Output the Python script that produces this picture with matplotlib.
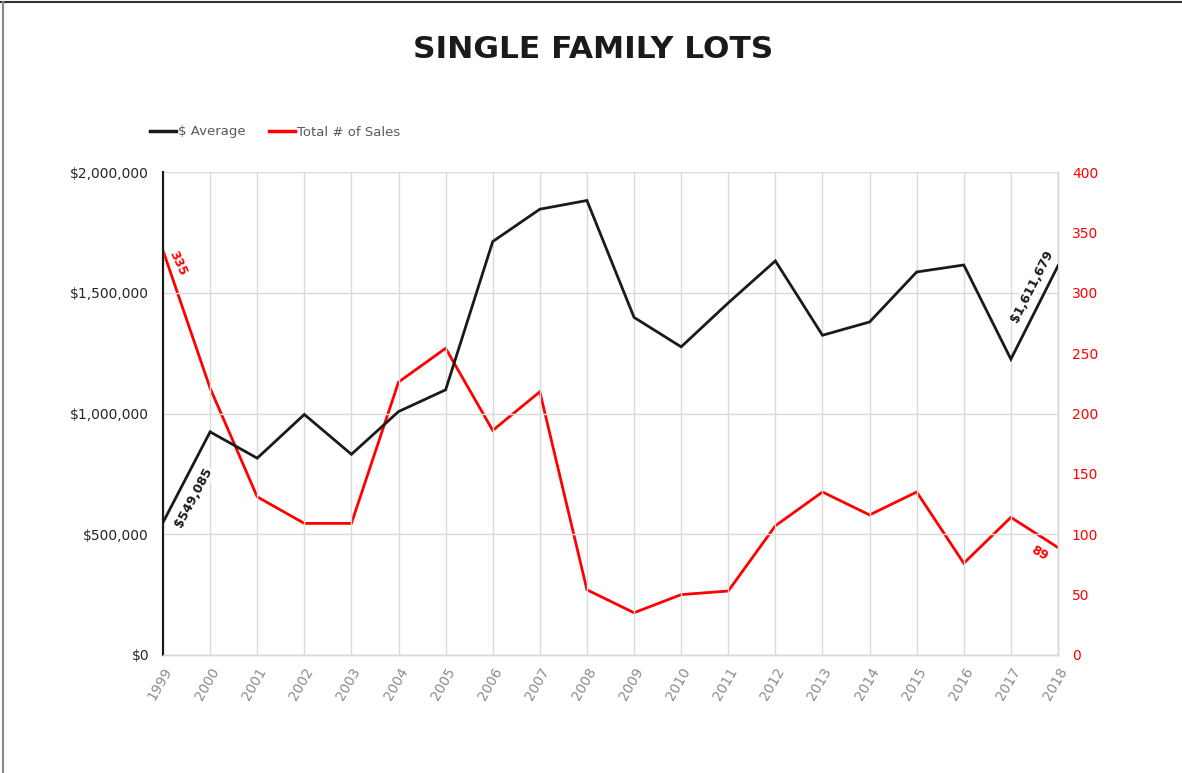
import matplotlib
matplotlib.use("Agg")
import matplotlib.pyplot as plt
from matplotlib.ticker import FuncFormatter, MultipleLocator
from matplotlib.lines import Line2D

years = ["1999", "2000", "2001", "2002", "2003", "2004", "2005", "2006", "2007", "2008",
         "2009", "2010", "2011", "2012", "2013", "2014", "2015", "2016", "2017", "2018"]
avg_price = [549085, 924000, 815000, 996000, 831000, 1008000, 1098000, 1712000, 1846000, 1882000,
             1398000, 1276000, 1458000, 1632000, 1324000, 1379000, 1586000, 1615000, 1225000, 1611679]
total_sales = [335, 221, 131, 109, 109, 226, 254, 186, 218, 54,
               35, 50, 53, 107, 135, 116, 135, 76, 114, 89]

title = "SINGLE FAMILY LOTS"
legend_labels = ["$ Average", "Total # of Sales"]

BLACK = "#1a1a1a"
RED = "#ff0000"
GRID = "#d9d9d9"
FONT = "DejaVu Sans"

plt.rcParams["font.family"] = [FONT]

fig = plt.figure(figsize=(11.82, 7.73), dpi=100)
ax = fig.add_axes([163 / 1182, 1 - 655 / 773, (1058 - 163) / 1182, (655 - 172) / 773])
ax2 = ax.twinx()

x = list(range(len(years)))
ax.plot(x, avg_price, color=BLACK, lw=2.0, zorder=3, solid_joinstyle="miter")
ax2.plot(x, total_sales, color=RED, lw=2.0, zorder=3, solid_joinstyle="miter")

ax.set_xlim(0, len(years) - 1)
ax.set_ylim(0, 2000000)
ax2.set_ylim(0, 400)
ax.yaxis.set_major_locator(MultipleLocator(500000))
ax2.yaxis.set_major_locator(MultipleLocator(50))
ax.yaxis.set_major_formatter(FuncFormatter(lambda v, p: "${:,.0f}".format(v)))

ax.set_xticks(x)
ax.set_xticklabels(years, rotation=60, ha="right", va="top", rotation_mode="anchor",
                   color="#8c8c8c", fontsize=10)
ax.tick_params(axis="x", length=0, pad=7)
ax.tick_params(axis="y", length=0, pad=10, labelsize=10, labelcolor="#262626")
ax2.tick_params(axis="y", length=0, pad=10, labelsize=10, labelcolor=RED)

ax.grid(True, color=GRID, lw=1.0, zorder=0)
ax.set_axisbelow(True)
for a in (ax, ax2):
    a.spines["top"].set_visible(False)
    a.spines["bottom"].set_color(GRID)
    a.spines["right"].set_color(GRID)
    a.spines["left"].set_color(BLACK)
    a.spines["left"].set_linewidth(1.5)
    a.spines["right"].set_linewidth(1.0)
    a.spines["bottom"].set_linewidth(1.0)
ax.set_zorder(ax2.get_zorder() + 1)
ax.patch.set_visible(False)

# data labels
bb = dict(boxstyle="square,pad=0.1", fc="white", ec="none")
ax.annotate("${:,.0f}".format(avg_price[0]), xy=(x[0], avg_price[0]), xytext=(22, 18),
            textcoords="offset points", ha="center", va="center", rotation=62,
            fontsize=9, fontweight="bold", color=BLACK, bbox=bb, zorder=5)
ax2.annotate("{}".format(total_sales[0]), xy=(x[0], total_sales[0]), xytext=(11, -9),
             textcoords="offset points", ha="center", va="center", rotation=-65,
             fontsize=9, fontweight="bold", color=RED, zorder=5)
ax.annotate("${:,.0f}".format(avg_price[-1]), xy=(x[-1], avg_price[-1]), xytext=(-19, -15),
            textcoords="offset points", ha="center", va="center", rotation=63,
            fontsize=9, fontweight="bold", color=BLACK, bbox=bb, zorder=5)
ax2.annotate("{}".format(total_sales[-1]), xy=(x[-1], total_sales[-1]), xytext=(-13, -4),
             textcoords="offset points", ha="center", va="center", rotation=-30,
             fontsize=9, fontweight="bold", color=RED, zorder=5)

fig.text(0.502, 1 - 50 / 773, title, ha="center", va="center", fontsize=22.5,
         fontweight="bold", color=BLACK)

handles = [Line2D([], [], color=BLACK, lw=2.5), Line2D([], [], color=RED, lw=2.5)]
fig.legend(handles, legend_labels, loc="center left", bbox_to_anchor=(150 / 1182, 1 - 132 / 773),
           ncol=2, frameon=False, handlelength=2.0, handletextpad=0.1, columnspacing=1.8,
           fontsize=9.5, labelcolor="#595959", borderaxespad=0, borderpad=0)

# outer frame (top and left edges)
fig.add_artist(Line2D([0, 1], [1 - 2 / 773, 1 - 2 / 773], transform=fig.transFigure,
                      color="#333333", lw=1.5))
fig.add_artist(Line2D([2.5 / 1182, 2.5 / 1182], [0, 1 - 2 / 773], transform=fig.transFigure,
                      color="#888888", lw=1.5))

fig.savefig("out.png", dpi=100, facecolor="white")
